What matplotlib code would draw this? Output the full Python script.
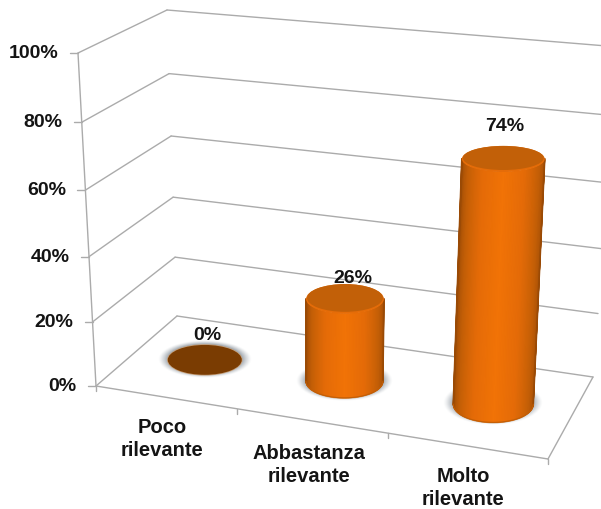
import numpy as np
import matplotlib
matplotlib.use("Agg")
import matplotlib.pyplot as plt
from matplotlib.colors import LinearSegmentedColormap
from matplotlib.patches import Ellipse

categories = ["Poco\nrilevante", "Abbastanza\nrilevante", "Molto\nrilevante"]
values = [0, 26, 74]
value_labels = ["0%", "26%", "74%"]
tick_values = [0, 20, 40, 60, 80, 100]
tick_labels = ["0%", "20%", "40%", "60%", "80%", "100%"]

# projected box corners, in image pixels (front/back, left/right; floor and top)
FLOOR = dict(fl=(96, 386), fr=(548, 459), bl=(177, 316), br=(593, 377))
TOP = dict(fl=(78, 53), fr=(561, 109), bl=(167, 10), br=(619, 47))
DEPTH = 0.52
GRID = "#ababab"
TEXT = "#141414"
FONT = "Liberation Sans"


def persp(t, k):
    return t / (t + (1 - t) * k)


def project(u, d, v):
    s = persp(v / 100.0, 1.05)
    out = []
    for i in (0, 1):
        fl = FLOOR["fl"][i] + s * (TOP["fl"][i] - FLOOR["fl"][i])
        fr = FLOOR["fr"][i] + s * (TOP["fr"][i] - FLOOR["fr"][i])
        bl = FLOOR["bl"][i] + s * (TOP["bl"][i] - FLOOR["bl"][i])
        br = FLOOR["br"][i] + s * (TOP["br"][i] - FLOOR["br"][i])
        front = fl + u * (fr - fl)
        back = bl + u * (br - bl)
        out.append(front + d * (back - front))
    return out


def cat_u(position):
    return persp(position / len(categories), 1.1)


fig = plt.figure(figsize=(6.01, 5.09), dpi=100)
ax = fig.add_axes([0, 0, 1, 1])
ax.set_axis_off()


def seg(a, b, **kw):
    ax.plot([a[0], b[0]], [a[1], b[1]], color=GRID, lw=1.0, solid_capstyle="round",
            zorder=1, **kw)


# walls and gridlines
for v in tick_values:
    a, b, c = project(0, 0, v), project(0, 1, v), project(1, 1, v)
    seg(a, b)
    seg(b, c)
    seg(a, (a[0] - 8, a[1]))
seg(project(0, 0, 0), project(0, 0, 100))

# floor front and right edges, category ticks
seg(project(0, 0, 0), project(1, 0, 0))
seg(project(1, 0, 0), project(1, 1, 0))
for i in range(len(categories) + 1):
    p = project(cat_u(i), 0, 0)
    seg(p, (p[0], p[1] + 5))

# axis text
tick_xoff = 19.5
for v, lab in zip(tick_values, tick_labels):
    p = project(0, 0, v)
    ax.text(p[0] - tick_xoff, p[1] + 0.5, lab, ha="right", va="center", family=FONT,
            weight="bold", fontsize=14, color=TEXT, zorder=6)

cat_text_pos = [(162, 439), (309, 465), (463, 488)]
for (x, y), lab in zip(cat_text_pos, categories):
    ax.text(x, y, lab, ha="center", va="center", family=FONT, weight="bold",
            fontsize=14.5, color=TEXT, linespacing=1.28, zorder=6)

body_cmap = LinearSegmentedColormap.from_list(
    "body", ["#9a4a05", "#c25e06", "#e56b07", "#f17306", "#e56b07", "#c25e06", "#9a4a05"])

label_gap = [9, 6, 19]
label_dx = [3, 8, 1]
for i, (val, lab) in enumerate(zip(values, value_labels)):
    u = cat_u(i + 0.5)
    cx0, cy0 = project(u, DEPTH, 0)
    cx1, cy1 = project(u, DEPTH, val)
    s = persp(val / 100.0, 1.05)
    rx0, ry0 = 36.3 + 4.5 * u, 14.2 + 4.7 * u
    rx1, ry1 = rx0 * (1 + 0.05 * s), ry0 * (1 - 0.38 * s)

    # soft floor shadow
    sx, sy = rx0 + 10, ry0 + 4
    gx, gy = np.meshgrid(np.linspace(-sx, sx, 120), np.linspace(-sy, sy, 80))
    r = np.hypot(gx / sx, gy / sy)
    rgba = np.zeros(r.shape + (4,))
    rgba[..., :3] = (0.50, 0.54, 0.58)
    rgba[..., 3] = 0.8 * np.clip((1 - r) / 0.22, 0, 1) ** 1.3
    ax.imshow(rgba, extent=(cx0 - sx, cx0 + sx, cy0 - 1 + sy, cy0 - 1 - sy), aspect="auto",
              interpolation="bilinear", zorder=2)

    if val == 0:
        ax.add_patch(Ellipse((cx0, cy0), 2 * rx0 + 1.5, 2 * ry0 + 1.5, fc="#c9a27c", ec="none", zorder=3))
        ax.add_patch(Ellipse((cx0, cy0), 2 * rx0, 2 * ry0, fc="#7a3c02", ec="none", zorder=4))
    else:
        ax.add_patch(Ellipse((cx0, cy0 + 1), 2 * rx0, 2 * ry0, fc="#c9a27c", ec="none", zorder=3))
        theta = np.linspace(0, np.pi, 80)
        h = np.linspace(0, 1, 2)
        T, H = np.meshgrid(theta, h)
        X = (cx1 + H * (cx0 - cx1)) + (rx1 + H * (rx0 - rx1)) * np.cos(T)
        Y = (cy1 + H * (cy0 - cy1)) + (ry1 + H * (ry0 - ry1)) * np.sin(T)
        ax.pcolormesh(X, Y, T, cmap=body_cmap, shading="gouraud", zorder=4)
        # antialiased outline hides the stair-stepped mesh edge
        ax.plot(X[:, 0], Y[:, 0], color="#9a4a05", lw=1.2, zorder=4.5)
        ax.plot(X[:, -1], Y[:, -1], color="#9a4a05", lw=1.2, zorder=4.5)
        ax.plot(X[1], Y[1], color="#c25e06", lw=0.8, zorder=4.5)
        ax.add_patch(Ellipse((cx1, cy1), 2 * rx1, 2 * ry1, fc="#e56c08", ec="none", zorder=5))
        ax.add_patch(Ellipse((cx1, cy1 - 1), 2 * rx1 - 2, 2 * ry1 - 2, fc="#c26008", ec="none", zorder=5))

    ax.text(cx1 + label_dx[i], cy1 - ry1 - label_gap[i], lab, ha="center", va="center", family=FONT,
            weight="bold", fontsize=14, color=TEXT, zorder=7)

ax.set_xlim(0, 601)
ax.set_ylim(509, 0)
fig.savefig("out.png", dpi=100, facecolor="white")
